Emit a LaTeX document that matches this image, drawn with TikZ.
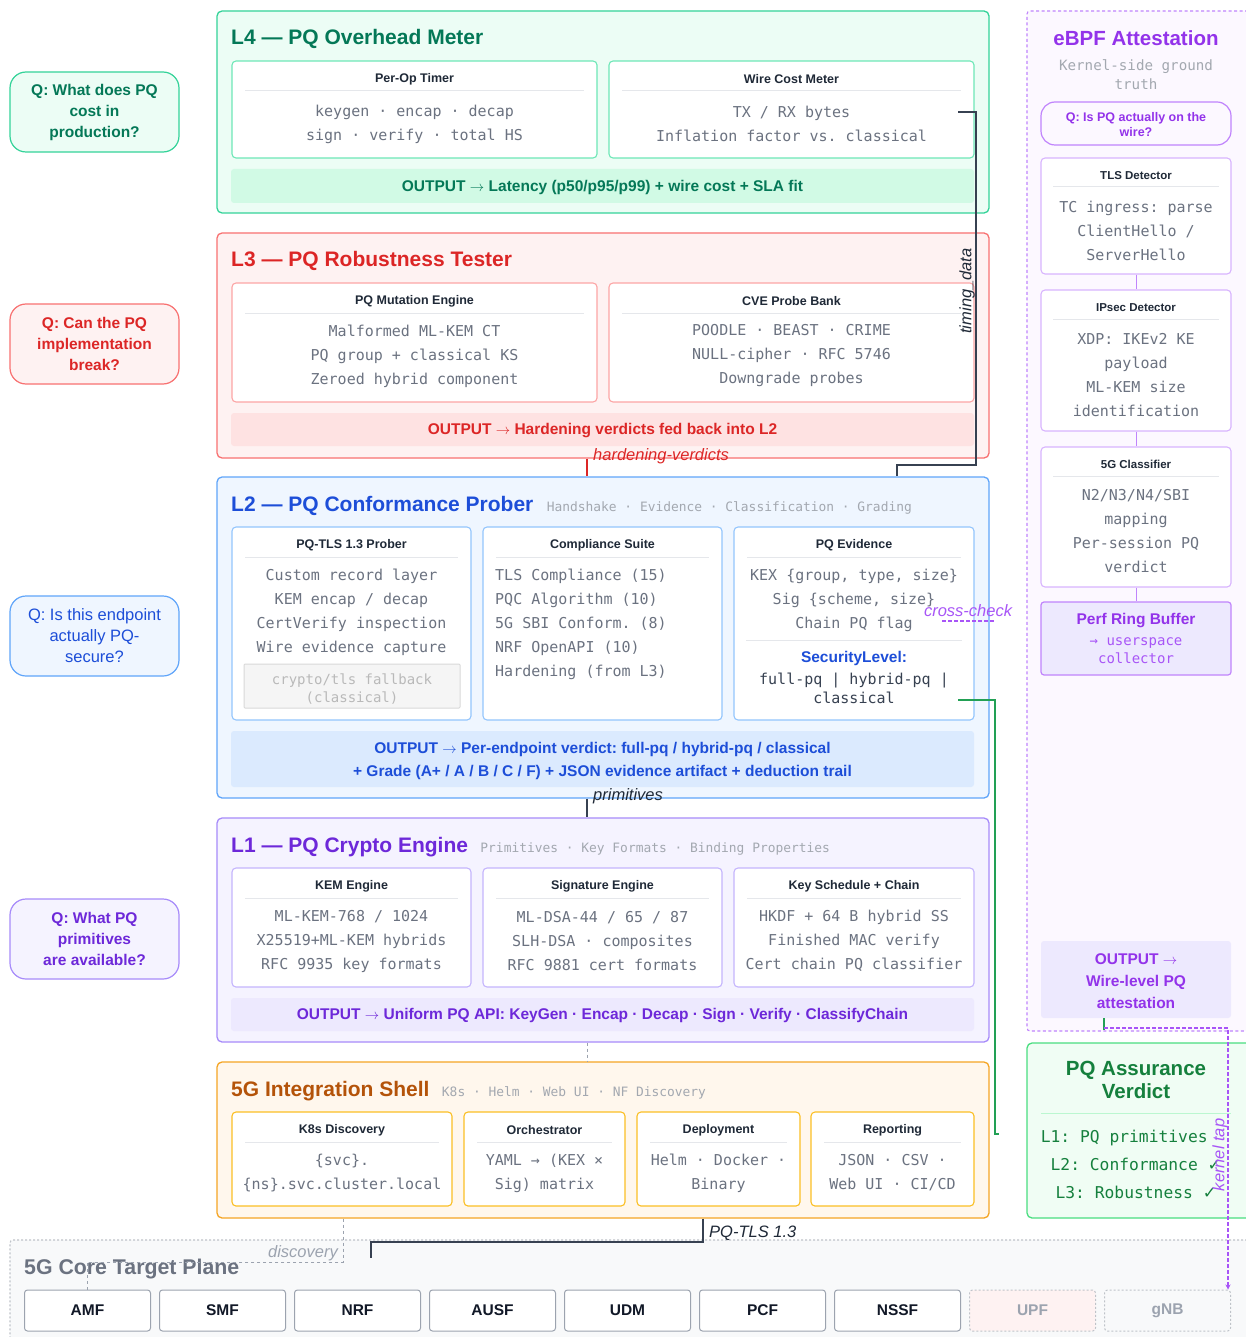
\documentclass[tikz,border=0pt]{standalone}
\usepackage{fontspec}
\setmainfont{Liberation Sans}
\newfontfamily\monof{DejaVu Sans Mono}
\newfontfamily\dejav{DejaVu Sans}
\usetikzlibrary{fit,arrows.meta}
\newcommand\fs[2]{\fontsize{#1}{#2}\selectfont}
\newcommand\oarr{\ $\rightarrow$\ }
\frenchspacing
% colours
\definecolor{gB}{HTML}{34D399}\definecolor{gF}{HTML}{ECFDF5}\definecolor{gT}{HTML}{047857}\definecolor{gO}{HTML}{D1FAE5}\definecolor{gC}{HTML}{6EE7B7}
\definecolor{rB}{HTML}{F87171}\definecolor{rF}{HTML}{FEF2F2}\definecolor{rT}{HTML}{DC2626}\definecolor{rO}{HTML}{FEE2E2}\definecolor{rC}{HTML}{FCA5A5}
\definecolor{bB}{HTML}{60A5FA}\definecolor{bF}{HTML}{EFF6FF}\definecolor{bT}{HTML}{1D4ED8}\definecolor{bO}{HTML}{DBEAFE}\definecolor{bC}{HTML}{93C5FD}
\definecolor{pB}{HTML}{A78BFA}\definecolor{pF}{HTML}{F5F3FF}\definecolor{pT}{HTML}{6D28D9}\definecolor{pO}{HTML}{EDE9FE}\definecolor{pC}{HTML}{C4B5FD}
\definecolor{sB}{HTML}{F5A524}\definecolor{sF}{HTML}{FFF7ED}\definecolor{sT}{HTML}{B45309}\definecolor{sC}{HTML}{FBBF24}
\definecolor{eB}{HTML}{C084FC}\definecolor{eF}{HTML}{FCF8FF}\definecolor{eT}{HTML}{9333EA}\definecolor{eC}{HTML}{D8B4FE}\definecolor{eO}{HTML}{EDE9FE}\definecolor{eL}{HTML}{A855F7}
\definecolor{vB}{HTML}{4ADE80}\definecolor{vF}{HTML}{F0FDF4}\definecolor{vT}{HTML}{15803D}\definecolor{vD}{HTML}{BBF7D0}
\definecolor{hdrc}{HTML}{1F2937}\definecolor{bodyc}{HTML}{6B7280}\definecolor{divc}{HTML}{E5E7EB}\definecolor{subc}{HTML}{A3A8B0}
\definecolor{coreF}{HTML}{F8F9FA}\definecolor{coreB}{HTML}{BFC3C9}\definecolor{coreT}{HTML}{6B7280}\definecolor{nfB}{HTML}{9CA3AF}\definecolor{nfT}{HTML}{111827}
\definecolor{linkc}{HTML}{374151}\definecolor{glink}{HTML}{22A055}\definecolor{darkc}{HTML}{374151}
\tikzset{
  layer/.style={rounded corners=5pt, line width=1.3pt, inner sep=0pt},
  cardbox/.style={rounded corners=4pt, line width=1.1pt, fill=white, inner sep=0pt},
  hdr/.style={font=\bfseries\fs{12.5}{14}, text=hdrc, inner sep=0pt, yshift=-1.5pt},
  body/.style={font=\monof\fs{15}{24}, text=bodyc, align=center, inner sep=0pt, yshift=-3pt},
  divline/.style={draw=divc, line width=1pt},
  ltitle/.style={font=\bfseries\fs{21}{24}, anchor=base west, inner sep=0pt},
  lsub/.style={font=\monof\fs{12.9}{15}, text=subc, anchor=base west, inner sep=0pt},
  outband/.style={inner sep=0pt, rounded corners=3pt},
  outtxt/.style={font=\bfseries\fs{15.5}{23}, align=center, inner sep=0pt, yshift=-1.5pt},
  qbub/.style={rounded corners=16pt, line width=1.2pt, inner sep=0pt, minimum width=169pt, minimum height=80pt, align=center, font=\bfseries\fs{15.5}{21}},
  clabel/.style={font=\itshape\fs{16.5}{18}, inner sep=0pt},
  nfbox/.style={draw=nfB, line width=1pt, fill=white, rounded corners=3pt, minimum width=126pt, minimum height=41pt, inner sep=0pt, font=\bfseries\fs{15.5}{18}, text=nfT},
  nfdim/.style={nfbox, dash pattern=on 2pt off 2pt, draw=coreB, text=nfB},
  ecard/.style={cardbox, draw=eC},
  link/.style={draw=linkc, line width=1.2pt},
}
\newcommand\mkcard[7]{%
  \node[cardbox, draw=#6, fit={(#2,#3)(#4,#5)}] (#1) {};
  \node[hdr] (#1h) at ({(#2+#4)/2},{#3+17}) {#7};
  \draw[divline] ({#2+13},{#3+30}) -- ({#4-13},{#3+30});
}
\begin{document}
\begin{tikzpicture}[x=1pt,y=-1pt]
\fill[white] (0,0) rectangle (1245,1337);
\useasboundingbox (0,0) rectangle (1245,1337);

% ---------- 5G core target plane
\node[fit={(10,1240)(1262,1350)}, draw=coreB, dash pattern=on 2pt off 2pt, line width=1.1pt, fill=coreF, inner sep=0pt, rounded corners=3pt] (core) {};
\node[font=\bfseries\fs{21.3}{24}, text=coreT, anchor=base west, inner sep=0pt] (coret) at (24,1274) {5G Core Target Plane};
\node[nfbox] (amf)  at (87.5,1310.5) {AMF};
\node[nfbox] (smf)  at (222.5,1310.5) {SMF};
\node[nfbox] (nrf)  at (357.5,1310.5) {NRF};
\node[nfbox] (ausf) at (492.5,1310.5) {AUSF};
\node[nfbox] (udm)  at (627.5,1310.5) {UDM};
\node[nfbox] (pcf)  at (762.5,1310.5) {PCF};
\node[nfbox] (nssf) at (897.5,1310.5) {NSSF};
\node[nfdim, fill=rF] (upf) at (1032.5,1310.5) {UPF};
\node[nfdim, fill=coreF] (gnb) at (1167.5,1310.5) {gNB};

% ---------- question bubbles
\node[qbub, draw=gB, fill=gF, text=gT] (q4) at (94.5,112) {Q: What does PQ\\cost in\\production?};
\node[qbub, draw=rB, fill=rF, text=rT] (q3) at (94.5,344) {Q: Can the PQ\\implementation\\break?};
\node[qbub, draw=bB, fill=bF, text=bT, font=\fs{16.5}{21}] (q2) at (94.5,636) {Q: Is this endpoint\\actually PQ-\\secure?};
\node[qbub, draw=pB, fill=pF, text=pT] (q1) at (94.5,939) {Q: What PQ\\primitives\\are available?};

% ---------- L4
\node[layer, draw=gB, fill=gF, fit={(217,11)(989,213)}] (l4) {};
\node[ltitle, text=gT] (l4t) at (231,45) {L4 — PQ Overhead Meter};
\mkcard{c4a}{232}{61}{597}{158}{gC}{Per-Op Timer}
\node[body] (c4ab) at (414.5,121) {keygen · encap · decap\\sign · verify · total HS};
\mkcard{c4b}{609}{61}{974}{158}{gC}{Wire Cost Meter}
\node[body] (c4bb) at (791.5,121) {TX / RX bytes\\Inflation factor vs. classical};
\node[outband, fill=gO, fit={(231,169)(974,203)}] (o4) {};
\node[outtxt, text=gT] (o4t) at (o4.center) {OUTPUT\oarr Latency (p50/p95/p99) + wire cost + SLA fit};

% ---------- L3
\node[layer, draw=rB, fill=rF, fit={(217,233)(989,458)}] (l3) {};
\node[ltitle, text=rT] (l3t) at (231,267) {L3 — PQ Robustness Tester};
\mkcard{c3a}{232}{283}{597}{402}{rC}{PQ Mutation Engine}
\node[body] (c3ab) at (414.5,353) {Malformed ML-KEM CT\\PQ group + classical KS\\Zeroed hybrid component};
\mkcard{c3b}{609}{283}{974}{402}{rC}{CVE Probe Bank}
\node[body] (c3bb) at (791.5,353) {POODLE · BEAST · CRIME\\NULL-cipher · RFC 5746\\Downgrade probes};
\node[outband, fill=rO, fit={(231,413)(974,446)}] (o3) {};
\node[outtxt, text=rT] (o3t) at (o3.center) {OUTPUT\oarr Hardening verdicts fed back into L2};

% ---------- L2
\node[layer, draw=bB, fill=bF, fit={(217,477)(989,798)}] (l2) {};
\node[ltitle, text=bT] (l2t) at (231,511) {L2 — PQ Conformance Prober};
\node[lsub] (l2s) at ([xshift=13pt]l2t.base east) {Handshake · Evidence · Classification · Grading};
\mkcard{c2a}{232}{527}{471}{720}{bC}{PQ-TLS 1.3 Prober}
\node[body] (c2ab) at (351.5,609) {Custom record layer\\KEM encap / decap\\CertVerify inspection\\Wire evidence capture};
\node[fit={(244,664)(460,708)}, fill=gray!8, draw=gray!30, line width=1pt, inner sep=0pt, rounded corners=1pt] (fb) {};
\node[body, font=\monof\fs{14}{18}, text=gray!55] (fbt) at (fb.center) {crypto/tls fallback\\(classical)};
\mkcard{c2b}{483}{527}{722}{720}{bC}{Compliance Suite}
\node[body, align=left, anchor=west] (c2bb) at (495,621) {TLS Compliance (15)\\PQC Algorithm (10)\\5G SBI Conform. (8)\\NRF OpenAPI (10)\\Hardening (from L3)};
\mkcard{c2c}{734}{527}{974}{720}{bC}{PQ Evidence}
\node[body] (c2cb) at (854,597) {KEX \{group, type, size\}\\Sig \{scheme, size\}\\Chain PQ flag};
\draw[divline] (746,640) -- (962,640);
\node[font=\bfseries\fs{15.5}{18}, text=bT, inner sep=0pt] (seclv) at (854,658.5) {SecurityLevel:};
\node[body, font=\monof\fs{15}{19}, text=darkc] (seclvb) at (854,685) {full-pq | hybrid-pq |\\classical};
\node[outband, fill=bO, fit={(231,731)(974,787)}] (o2) {};
\node[outtxt, text=bT] (o2t) at (o2.center) {OUTPUT\oarr Per-endpoint verdict: full-pq / hybrid-pq / classical\\+ Grade (A+ / A / B / C / F) + JSON evidence artifact + deduction trail};

% ---------- L1
\node[layer, draw=pB, fill=pF, fit={(217,818)(989,1042)}] (l1) {};
\node[ltitle, text=pT] (l1t) at (231,852) {L1 — PQ Crypto Engine};
\node[lsub] (l1s) at ([xshift=12pt]l1t.base east) {Primitives · Key Formats · Binding Properties};
\mkcard{c1a}{232}{868}{471}{987}{pC}{KEM Engine}
\node[body] (c1ab) at (351.5,938) {ML-KEM-768 / 1024\\X25519+ML-KEM hybrids\\RFC 9935 key formats};
\mkcard{c1b}{483}{868}{722}{987}{pC}{Signature Engine}
\node[body] (c1bb) at (602.5,938) {ML-DSA-44 / 65 / 87\\SLH-DSA · composites\\RFC 9881 cert formats};
\mkcard{c1c}{734}{868}{974}{987}{pC}{Key Schedule + Chain}
\node[body] (c1cb) at (854,938) {HKDF + 64 B hybrid SS\\Finished MAC verify\\Cert chain PQ classifier};
\node[outband, fill=pO, fit={(231,998)(974,1031)}] (o1) {};
\node[outtxt, text=pT] (o1t) at (o1.center) {OUTPUT\oarr Uniform PQ API: KeyGen · Encap · Decap · Sign · Verify · ClassifyChain};

% ---------- 5G Integration Shell
\node[layer, draw=sB, fill=sF, fit={(217,1062)(989,1218)}] (shell) {};
\node[ltitle, text=sT] (sht) at (231,1096) {5G Integration Shell};
\node[lsub] (shs) at ([xshift=12pt]sht.base east) {K8s · Helm · Web UI · NF Discovery};
\mkcard{csa}{232}{1112}{452}{1206}{sC}{K8s Discovery}
\node[body] (csab) at (342,1170) {\{svc\}.\\\{ns\}.svc.cluster.local};
\mkcard{csb}{464}{1112}{625}{1206}{sC}{Orchestrator}
\node[body] (csbb) at (544.5,1170) {YAML → (KEX ×\\Sig) matrix};
\mkcard{csc}{637}{1112}{800}{1206}{sC}{Deployment}
\node[body] (cscb) at (718.5,1170) {Helm · Docker ·\\Binary};
\mkcard{csd}{811}{1112}{974}{1206}{sC}{Reporting}
\node[body] (csdb) at (892.5,1170) {JSON · CSV ·\\Web UI · CI/CD};

% ---------- eBPF attestation
\node[fit={(1027,11)(1262,1031)}, draw=eB, fill=eF, dash pattern=on 3pt off 2.5pt, line width=1.1pt, inner sep=0pt, rounded corners=3pt] (ebpf) {};
\node[font=\bfseries\fs{20.5}{24}, text=eT, anchor=base, inner sep=0pt] (ebt) at (1136,45.5) {eBPF Attestation};
\node[body, font=\monof\fs{14.2}{19}, text=subc] (ebs) at (1136,72) {Kernel-side ground\\truth};
\node[fit={(1041,102)(1231,145)}, draw=eB, fill=eF, line width=1.2pt, rounded corners=14pt, inner sep=0pt] (qe) {};
\node[font=\bfseries\fs{12.5}{15}, text=eT, align=center, inner sep=0pt] (qet) at (1136,124.5) {Q: Is PQ actually on the\\wire?};
\node[ecard, fit={(1041,158)(1231,274)}] (tls) {};
\node[hdr, font=\bfseries\fs{11.5}{14}] (tlsh) at (1136,174) {TLS Detector};
\draw[divline] (1053,187) -- (1219,187);
\node[body] (tlsb) at (1136,228) {TC ingress: parse\\ClientHello /\\ServerHello};
\node[ecard, fit={(1041,290)(1231,431)}] (ips) {};
\node[hdr, font=\bfseries\fs{11.5}{14}] (ipsh) at (1136,306) {IPsec Detector};
\draw[divline] (1053,319) -- (1219,319);
\node[body] (ipsb) at (1136,372) {XDP: IKEv2 KE\\payload\\ML-KEM size\\identification};
\node[ecard, fit={(1041,447)(1231,587)}] (cls) {};
\node[hdr, font=\bfseries\fs{11.5}{14}] (clsh) at (1136,463) {5G Classifier};
\draw[divline] (1053,476) -- (1219,476);
\node[body] (clsb) at (1136,528) {N2/N3/N4/SBI\\mapping\\Per-session PQ\\verdict};
\node[fit={(1041,602)(1231,675)}, draw=eB, fill=eO, line width=1.2pt, rounded corners=3pt, inner sep=0pt] (prb) {};
\node[font=\bfseries\fs{15.5}{18}, text=eT, inner sep=0pt] (prbt) at (1136,621) {Perf Ring Buffer};
\node[body, font=\monof\fs{14}{18}, text=eL] (prbb) at (1136,648) {→ userspace\\collector};
\node[outband, fill=eO, fit={(1041,941)(1231,1018)}] (eout) {};
\node[outtxt, font=\bfseries\fs{15.5}{22}, text=eT] (eoutt) at (1136,980) {OUTPUT $\rightarrow$\\Wire-level PQ\\attestation};
\draw[draw=eB, line width=1pt] (tls.south) -- (ips.north);
\draw[draw=eB, line width=1pt] (ips.south) -- (cls.north);
\draw[draw=eB, line width=1pt] (cls.south) -- (prb.north);

% ---------- verdict
\node[layer, draw=vB, fill=vF, fit={(1027,1043)(1262,1218)}] (vd) {};
\node[font=\bfseries\fs{20.5}{23}, text=vT, align=center, inner sep=0pt] (vdt) at (1136,1080) {PQ Assurance\\Verdict};
\draw[draw=vD, line width=1pt] (1041,1113) -- (1231,1113);
\node[body, font=\monof\fs{16.3}{28}, text=vT] (vdb) at (1136,1161) {L1: PQ primitives\phantom{ {\dejav ✓}}\\L2: Conformance {\dejav ✓}\\L3: Robustness {\dejav ✓}};

% ---------- connectors
\coordinate (hx) at (587,0);
\coordinate (tx) at (897,0);
\coordinate (px) at (703,0);
\coordinate (dx) at (343,0);
\coordinate (kx) at (1104,0);
\coordinate (kx2) at (1228,0);
\coordinate (t0) at (958,112);
\coordinate (g0) at (958,700);
\coordinate (gend) at (999,1134);
\coordinate (tlsend) at (371,1258);

% timing_data
\draw[link] (t0) -- (976,112) |- (897,465) -- (l2.north -| tx);
\node[clabel, text=hdrc, rotate=90, anchor=south] (tdl) at (975,291) {timing\_data};
% hardening-verdicts
\draw[link, draw=rT] (l3.south -| hx) -- (l2.north -| hx);
\node[clabel, text=rT, anchor=base west] (hvl) at (593,460) {hardening-verdicts};
% primitives
\draw[link] (l2.south -| hx) -- (l1.north -| hx);
\node[clabel, text=hdrc, anchor=base west] (prl) at (593,800) {primitives};
% L1 -> shell
\draw[draw=nfB, line width=1pt, dashed] (l1.south -| hx) -- (shell.north -| hx);
% cross-check
\draw[draw=eL, line width=1.1pt, dash pattern=on 4pt off 2pt] (942,621) -- (995,621);
\node[clabel, text=eL, anchor=base] (ccl) at (968,616) {cross-check};
% evidence -> verdict
\draw[draw=glink, line width=1.2pt] (g0) -- (995,700) |- (gend);
% PQ-TLS 1.3
\draw[link] (shell.south -| px) -- (703,1242) -| (tlsend);
\node[clabel, text=hdrc, anchor=base west] (ptl) at (709,1237) {PQ-TLS 1.3};
% discovery
\draw[draw=nfB, line width=1pt, dashed] (shell.south -| dx) -- (343,1262) -| (amf.north);
\node[clabel, text=nfB, anchor=base east] (dsl) at (338,1257) {discovery};
% kernel tap
\draw[draw=glink, line width=1.2pt] (eout.south -| kx) -- (1104,1030);
\draw[draw=eL, line width=1.1pt, dash pattern=on 4pt off 2pt, -{Stealth[length=5pt,width=5pt]}] (1104,1028) -- (1228,1028) -- (gnb.north -| kx2);
\node[clabel, text=eL, rotate=90, anchor=south] (ktl) at (1228,1155) {kernel tap};
\end{tikzpicture}
\end{document}
